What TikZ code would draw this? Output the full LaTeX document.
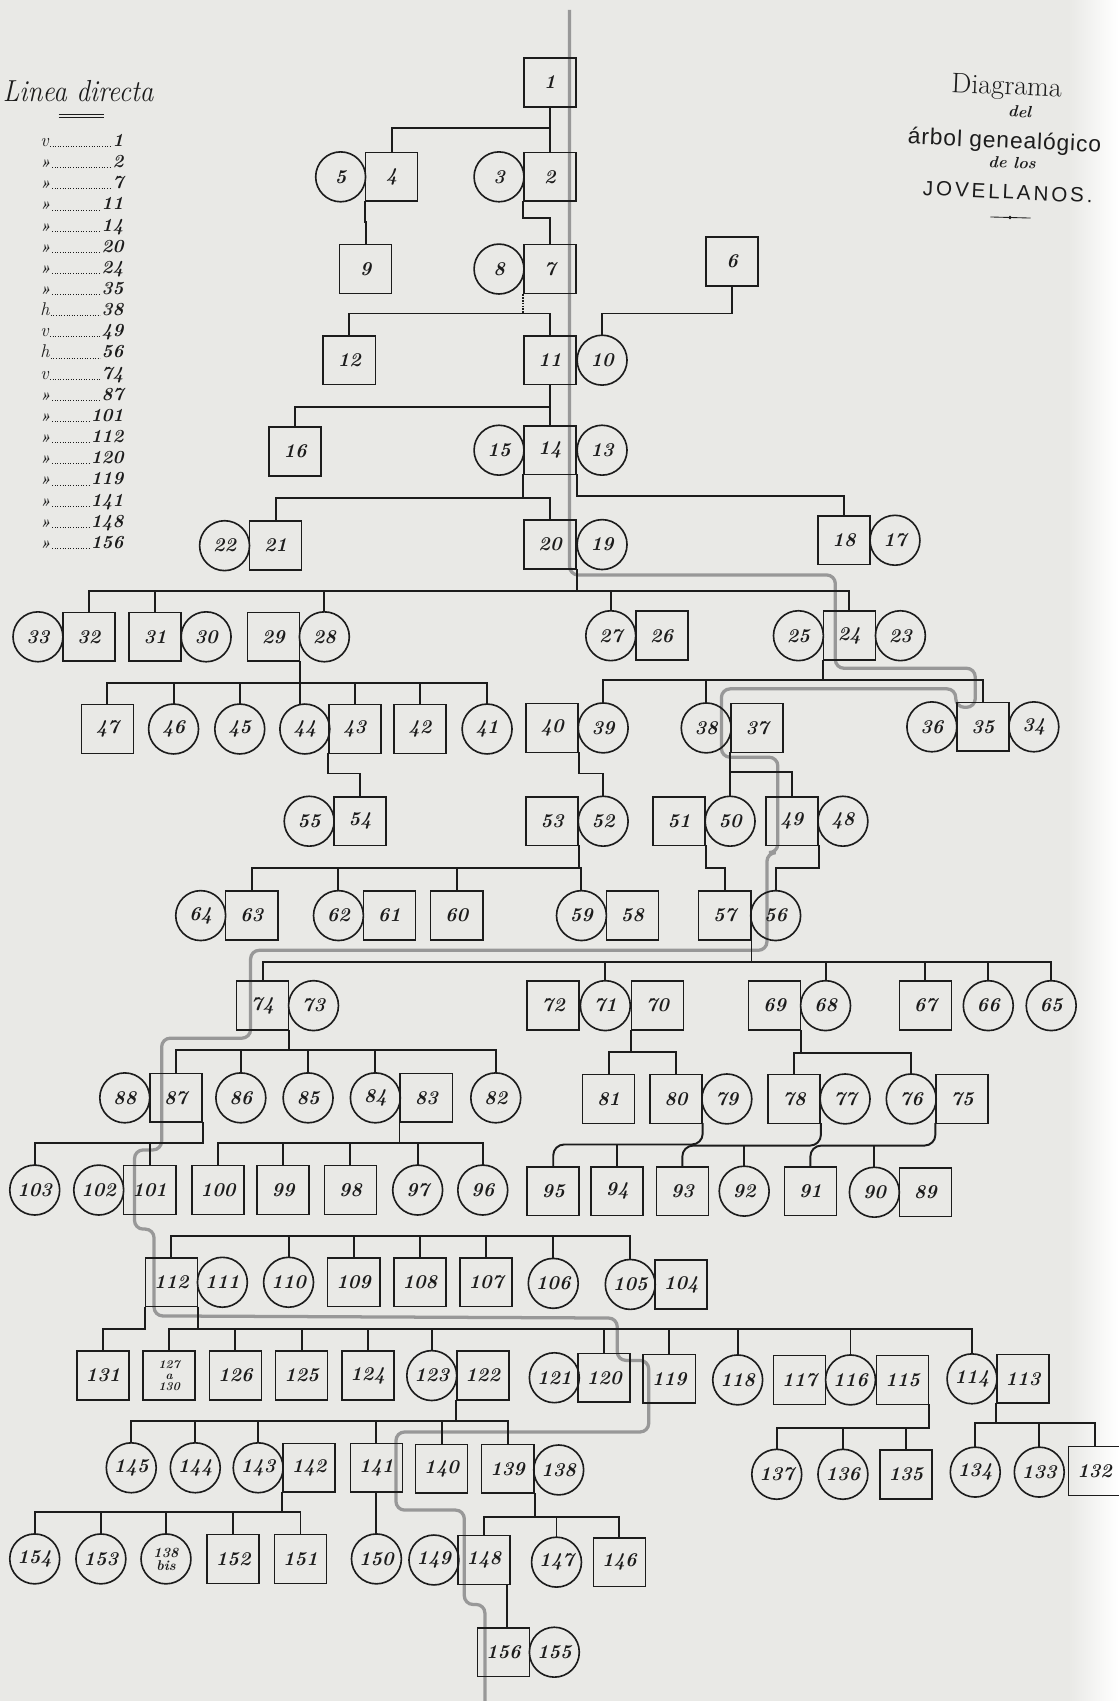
\documentclass[tikz,border=0pt]{standalone}
\usepackage{fontspec}
\newfontfamily\titlesans{Liberation Sans}
\definecolor{paper}{RGB}{233,233,230}
\definecolor{ink}{RGB}{28,28,28}
\definecolor{trail}{RGB}{152,152,152}
\newcommand\numfont{\fontsize{18}{20}\selectfont\bfseries\itshape}
\newcommand\legq{{\fontsize{15}{15}\selectfont\bfseries »}}
\newcommand\kin[3]{%
  \coordinate (busy) at (0,#2);
  \draw[link] (#1) -- (#1 |- busy);
  \foreach \kc in {#3}{\draw[link] (#1 |- busy) -| (\kc.north);}%
}
\newcommand\kinr[4]{%
  \coordinate (busy) at (0,#2);
  \draw[link,rounded corners=10pt] (#1) |- (#3.north |- busy) -- (#3.north);
  \foreach \kc in {#4}{\draw[link] (\kc.north |- busy) -- (\kc.north);}%
}
\begin{document}
\begin{tikzpicture}[x=1pt,y=-1pt,
  pbox/.style={draw=ink, line width=1.5pt, rectangle, minimum width=48pt, minimum height=45pt, inner sep=0pt, font=\numfont, text=ink},
  pcirc/.style={draw=ink, line width=1.5pt, circle, minimum size=46pt, inner sep=0pt, font=\numfont, text=ink},
  link/.style={draw=ink, line width=1.8pt, line cap=rect},
  trailline/.style={draw=trail, line width=3pt, rounded corners=8pt},
  legn/.style={font=\fontsize{17}{18}\selectfont\bfseries\itshape, inner sep=1pt, text=ink},
  legp/.style={font=\fontsize{17}{18}\selectfont\itshape, inner sep=1pt, text=ink},
  leader/.style={draw=ink, line width=0.7pt, dash pattern=on 0.8pt off 1.6pt}
]
\useasboundingbox (0,0) rectangle (1031,1568);
\fill[paper] (0,0) rectangle (1031,1568);
\shade[left color=paper, right color=white] (985,0) rectangle (1031,1568);

% ---------- title (left) ----------
\node[font=\fontsize{25}{26}\selectfont\itshape, anchor=base, text=ink, yscale=1.12] (ldir) at (72,94) {Linea directa};
\coordinate (ulA) at (54,105); \coordinate (ulB) at (96,105);
\coordinate (ulC) at (54,108); \coordinate (ulD) at (96,108);
\draw[ink, line width=0.6pt] (ulA) -- (ulB);
\draw[ink, line width=0.6pt] (ulC) -- (ulD);
\foreach \i/\p/\n in {0/v/1,1/\legq/2,2/\legq/7,3/\legq/11,4/\legq/14,5/\legq/20,6/\legq/24,7/\legq/35,8/h/38,9/v/49,10/h/56,11/v/74,12/\legq/87,13/\legq/101,14/\legq/112,15/\legq/120,16/\legq/119,17/\legq/141,18/\legq/148,19/\legq/156}{
  \pgfmathsetmacro\yy{129+19.5*\i+6}
  \node[legn, anchor=base east] (ln\i) at (115,\yy) {\n};
  \node[legp, anchor=base west] (lp\i) at (36,\yy) {\p};
  \draw[leader] (lp\i.base east) -- (ln\i.base west);
}

% ---------- title (right) ----------
\node[rotate=-2.5, text=ink, font=\fontsize{26}{27}\selectfont\addfontfeatures{FakeSlant=0.12,LetterSpace=6,FakeBold=0.6}] (tdiag) at (928,81) {Diagrama};
\node[rotate=-2.5, text=ink, font=\fontsize{15}{15}\selectfont\bfseries\itshape] (tdel) at (940,103) {del};
\node[rotate=-2.5, text=ink, font=\titlesans\fontsize{21}{22}\selectfont\addfontfeatures{LetterSpace=4}] (tarb) at (926,131) {árbol genealógico};
\node[rotate=-2.5, text=ink, font=\fontsize{15}{15}\selectfont\bfseries\itshape] (tdelos) at (933,150) {de los};
\node[rotate=-2.5, text=ink, font=\titlesans\fontsize{19}{20}\selectfont\addfontfeatures{LetterSpace=14}] (tjov) at (929,177) {JOVELLANOS.};
\coordinate (orL) at (913,200); \coordinate (orR) at (950,201);
\draw[ink, line width=0.8pt] (orL) -- (orR);
\fill[ink] (931,200.5) circle (1.8pt);

% ---------- line of direct descent ----------
\draw[trailline] (525,9) -- (525,530) -- (770,530) -- (770,616) -- (899,616) -- (899,652) -- (881,652) -- (881,635) -- (665,635) -- (665,698) -- (717,698) -- (717,786) -- (707,786) -- (707,876) -- (231,876) -- (231,957) -- (149,957) -- (149,1060) -- (124,1060) -- (124,1133) -- (142,1133) -- (142,1213) -- (569,1215) -- (569,1254) -- (598,1254) -- (598,1320) -- (365,1320) -- (365,1392) -- (428,1392) -- (428,1479) -- (447,1479) -- (447,1568);

% ---------- persons ----------
\node[pbox] (b1) at (507,76) {1};
\node[pcirc] (c5) at (314,163) {5};
\node[pbox] (b4) at (361,163) {4};
\node[pcirc] (c3) at (460,163) {3};
\node[pbox] (b2) at (507,163) {2};
\node[pbox] (b9) at (337,248) {9};
\node[pcirc] (c8) at (460,248) {8};
\node[pbox] (b7) at (507,248) {7};
\node[pbox] (b6) at (675,241) {6};
\node[pbox] (b12) at (322,332) {12};
\node[pbox] (b11) at (507,332) {11};
\node[pcirc] (c10) at (555,332) {10};
\node[pbox] (b16) at (272,416) {16};
\node[pcirc] (c15) at (460,415) {15};
\node[pbox] (b14) at (507,415) {14};
\node[pcirc] (c13) at (555,415) {13};
\node[pcirc] (c22) at (207,503) {22};
\node[pbox] (b21) at (254,503) {21};
\node[pbox] (b20) at (507,502) {20};
\node[pcirc] (c19) at (555,502) {19};
\node[pbox] (b18) at (778,498) {18};
\node[pcirc] (c17) at (825,498) {17};
% gen 7
\node[pcirc] (c33) at (35,587) {33};
\node[pbox] (b32) at (82,587) {32};
\node[pbox] (b31) at (143,587) {31};
\node[pcirc] (c30) at (190,587) {30};
\node[pbox] (b29) at (252,587) {29};
\node[pcirc] (c28) at (299,587) {28};
\node[pcirc] (c27) at (563,586) {27};
\node[pbox] (b26) at (610,586) {26};
\node[pcirc] (c25) at (736,586) {25};
\node[pbox] (b24) at (783,586) {24};
\node[pcirc] (c23) at (830,586) {23};
% gen 8
\node[pbox] (b47) at (99,672) {47};
\node[pcirc] (c46) at (160,672) {46};
\node[pcirc] (c45) at (221,672) {45};
\node[pcirc] (c44) at (281,672) {44};
\node[pbox] (b43) at (327,672) {43};
\node[pbox] (b42) at (387,672) {42};
\node[pcirc] (c41) at (449,672) {41};
\node[pbox] (b40) at (509,671) {40};
\node[pcirc] (c39) at (556,671) {39};
\node[pcirc] (c38) at (651,671) {38};
\node[pbox] (b37) at (698,671) {37};
\node[pcirc] (c36) at (859,670) {36};
\node[pbox] (b35) at (906,670) {35};
\node[pcirc] (c34) at (953,670) {34};
% gen 9
\node[pcirc] (c55) at (285,757) {55};
\node[pbox] (b54) at (332,757) {54};
\node[pbox] (b53) at (509,757) {53};
\node[pcirc] (c52) at (556,757) {52};
\node[pbox] (b51) at (626,757) {51};
\node[pcirc] (c50) at (673,757) {50};
\node[pbox] (b49) at (730,757) {49};
\node[pcirc] (c48) at (777,757) {48};
% gen 10
\node[pcirc] (c64) at (185,844) {64};
\node[pbox] (b63) at (232,844) {63};
\node[pcirc] (c62) at (312,844) {62};
\node[pbox] (b61) at (359,844) {61};
\node[pbox] (b60) at (421,844) {60};
\node[pcirc] (c59) at (536,844) {59};
\node[pbox] (b58) at (583,844) {58};
\node[pbox] (b57) at (668,844) {57};
\node[pcirc] (c56) at (715,844) {56};
% gen 11
\node[pbox] (b74) at (242,927) {74};
\node[pcirc] (c73) at (289,927) {73};
\node[pbox] (b72) at (510,927) {72};
\node[pcirc] (c71) at (558,927) {71};
\node[pbox] (b70) at (606,927) {70};
\node[pbox] (b69) at (714,927) {69};
\node[pcirc] (c68) at (761,927) {68};
\node[pbox] (b67) at (853,927) {67};
\node[pcirc] (c66) at (911,927) {66};
\node[pcirc] (c65) at (969,927) {65};
% gen 12
\node[pcirc] (c88) at (115,1012) {88};
\node[pbox] (b87) at (162,1012) {87};
\node[pcirc] (c86) at (222,1012) {86};
\node[pcirc] (c85) at (284,1012) {85};
\node[pcirc] (c84) at (346,1012) {84};
\node[pbox] (b83) at (393,1012) {83};
\node[pcirc] (c82) at (457,1012) {82};
\node[pbox] (b81) at (561,1013) {81};
\node[pbox] (b80) at (623,1013) {80};
\node[pcirc] (c79) at (670,1013) {79};
\node[pbox] (b78) at (732,1013) {78};
\node[pcirc] (c77) at (779,1013) {77};
\node[pcirc] (c76) at (840,1013) {76};
\node[pbox] (b75) at (887,1013) {75};
% gen 13
\node[pcirc] (c103) at (32,1097) {103};
\node[pcirc] (c102) at (91,1097) {102};
\node[pbox] (b101) at (138,1097) {101};
\node[pbox] (b100) at (201,1097) {100};
\node[pbox] (b99) at (261,1097) {99};
\node[pbox] (b98) at (323,1097) {98};
\node[pcirc] (c97) at (385,1097) {97};
\node[pcirc] (c96) at (445,1097) {96};
\node[pbox] (b95) at (510,1098) {95};
\node[pbox] (b94) at (569,1098) {94};
\node[pbox] (b93) at (629,1098) {93};
\node[pcirc] (c92) at (686,1098) {92};
\node[pbox] (b91) at (747,1098) {91};
\node[pcirc] (c90) at (806,1099) {90};
\node[pbox] (b89) at (853,1099) {89};
% gen 14
\node[pbox] (b112) at (158,1182) {112};
\node[pcirc] (c111) at (205,1182) {111};
\node[pcirc] (c110) at (266,1182) {110};
\node[pbox] (b109) at (326,1182) {109};
\node[pbox] (b108) at (387,1182) {108};
\node[pbox] (b107) at (448,1182) {107};
\node[pcirc] (c106) at (510,1183) {106};
\node[pcirc] (c105) at (581,1184) {105};
\node[pbox] (b104) at (628,1184) {104};
% gen 15
\node[pbox] (b131) at (95,1268) {131};
\node[pbox, font=\fontsize{11}{10}\selectfont\bfseries\itshape, align=center] (b127) at (156,1268) {127\\a\\130};
\node[pbox] (b126) at (217,1268) {126};
\node[pbox] (b125) at (278,1268) {125};
\node[pbox] (b124) at (339,1268) {124};
\node[pcirc] (c123) at (398,1268) {123};
\node[pbox] (b122) at (445,1268) {122};
\node[pcirc] (c121) at (511,1270) {121};
\node[pbox] (b120) at (557,1270) {120};
\node[pbox] (b119) at (617,1271) {119};
\node[pcirc] (c118) at (680,1272) {118};
\node[pbox] (b117) at (737,1272) {117};
\node[pcirc] (c116) at (784,1272) {116};
\node[pbox] (b115) at (832,1272) {115};
\node[pcirc] (c114) at (896,1271) {114};
\node[pbox] (b113) at (943,1271) {113};
% gen 16
\node[pcirc] (c145) at (121,1353) {145};
\node[pcirc] (c144) at (180,1353) {144};
\node[pcirc] (c143) at (238,1353) {143};
\node[pbox] (b142) at (285,1353) {142};
\node[pbox] (b141) at (347,1353) {141};
\node[pbox] (b140) at (407,1354) {140};
\node[pbox] (b139) at (468,1354) {139};
\node[pcirc] (c138) at (515,1355) {138};
\node[pcirc] (c137) at (716,1359) {137};
\node[pcirc] (c136) at (777,1359) {136};
\node[pbox] (b135) at (835,1359) {135};
\node[pcirc] (c134) at (899,1357) {134};
\node[pcirc] (c133) at (958,1357) {133};
\node[pbox] (b132) at (1009,1356) {132};
% gen 17
\node[pcirc] (c154) at (32,1437) {154};
\node[pcirc] (c153) at (93,1437) {153};
\node[pcirc, font=\fontsize{13}{12}\selectfont\bfseries\itshape, align=center] (c138b) at (153,1437) {138\\bis};
\node[pbox] (b152) at (215,1437) {152};
\node[pbox] (b151) at (277,1437) {151};
\node[pcirc] (c150) at (347,1437) {150};
\node[pcirc] (c149) at (400,1438) {149};
\node[pbox] (b148) at (446,1438) {148};
\node[pcirc] (c147) at (513,1440) {147};
\node[pbox] (b146) at (571,1440) {146};
% gen 18
\node[pbox] (b156) at (464,1523) {156};
\node[pcirc] (c155) at (511,1523) {155};

% ---------- descent connectors ----------
\kin{b1.south}{118}{b4,b2}
\kin{b4.south west}{205}{b9}
\kin{b2.south west}{201}{b7}
\coordinate (busd) at (0,289);
\draw[draw=ink, line width=1.6pt, densely dotted] (b7.south west) -- (b7.south west |- busd);
\foreach \kc in {b12,b11}{\draw[link] (b7.south west |- busd) -| (\kc.north);}
\kin{b6.south}{289}{c10}
\kin{b11.south}{375}{b16,b14}
\kin{b14.south west}{459}{b21,b20}
\kin{b14.south east}{457}{b18}
\kin{b20.south east}{545}{b32,b31,c28,c27,b24}
\kin{b29.south east}{630}{b47,c46,c45,b43,b42,c41}
\draw[link] (b29.south east) -- (b29.south east |- c44.north);
\kin{b24.south west}{627}{c39,c38,b35}
\kin{b43.south west}{713}{b54}
\kin{b40.south east}{713}{c52}
\kin{b37.south west}{712}{c50,b49}
\kin{b53.south east}{800}{b63,c62,b60,c59}
\kin{b51.south east}{800}{b57}
\kin{b49.south east}{800}{c56}
\kin{b57.south east}{887}{b74,c71,c68,b67,c66,c65}
\kin{b74.south east}{968}{b87,c86,c85,c84,c82}
\kin{b70.south west}{970}{b81,b80}
\kin{b69.south east}{971}{b78,c76}
\kin{b87.south east}{1054}{c103,b101}
\kin{b83.south west}{1054}{b100,b99,b98,c97,c96}
\kinr{b80.south east}{1055}{b95}{b94}
\kinr{b78.south east}{1056}{b93}{c92}
\kinr{b75.south west}{1056}{b91}{c90}
\coordinate (bust) at (0,1139);
\draw[link] (b112.north |- bust) -- (c105.north |- bust);
\foreach \kc in {b112,c110,b109,b108,b107,c106,c105}{\draw[link] (\kc.north |- bust) -- (\kc.north);}
\kin{b112.south east}{1225}{b127,b126,b125,b124,c123,b120,b119,c118,c116,c114}
\kin{b112.south west}{1225}{b131}
\kin{b122.south west}{1310}{c145,c144,c143,b141,b140,b139}
\kin{b115.south east}{1316}{c137,c136,b135}
\kin{b113.south west}{1312}{c134,c133,b132}
\kin{b142.south west}{1394}{c154,c153,c138b,b152,b151}
\draw[link] (b141.south) -- (c150.north);
\kin{b139.south east}{1398}{b148,c147,b146}
\draw[link] ([xshift=-3pt]b148.south east) -- ([xshift=-3pt]b148.south east |- b156.north);
\end{tikzpicture}
\end{document}
